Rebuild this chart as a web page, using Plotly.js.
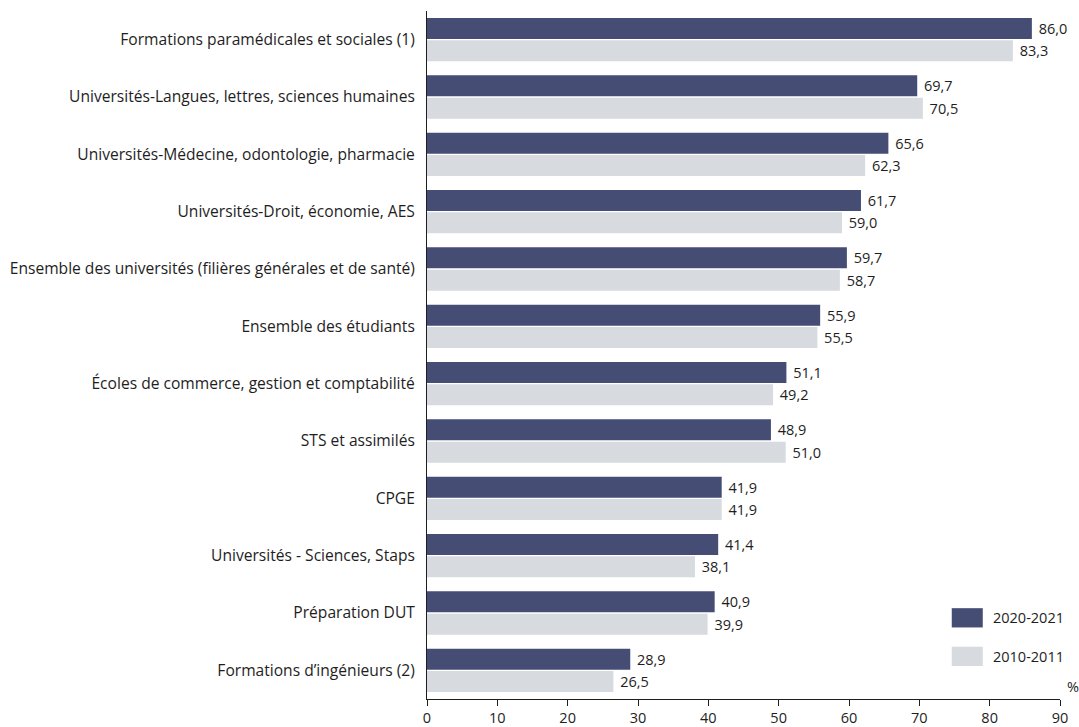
<!DOCTYPE html>
<html>
<head>
<meta charset="utf-8">
<script src="https://cdn.plot.ly/plotly-3.0.1.min.js"></script>
<style>html,body{margin:0;padding:0;background:#fff;}#chart{width:1079px;height:727px;}</style>
</head>
<body>
<div id="chart"></div>
<script>
const categories = [
  "Formations paramédicales et sociales (1)",
  "Universités-Langues, lettres, sciences humaines",
  "Universités-Médecine, odontologie, pharmacie",
  "Universités-Droit, économie, AES",
  "Ensemble des universités (filières générales et de santé)",
  "Ensemble des étudiants",
  "Écoles de commerce, gestion et comptabilité",
  "STS et assimilés",
  "CPGE",
  "Universités - Sciences, Staps",
  "Préparation DUT",
  "Formations d’ingénieurs (2)"
];
const values2020 = [86.0, 69.7, 65.6, 61.7, 59.7, 55.9, 51.1, 48.9, 41.9, 41.4, 40.9, 28.9];
const values2010 = [83.3, 70.5, 62.3, 59.0, 58.7, 55.5, 49.2, 51.0, 41.9, 38.1, 39.9, 26.5];
const seriesNames = ["2020-2021", "2010-2011"];
const xTicks = [0, 10, 20, 30, 40, 50, 60, 70, 80, 90];

const dark = "#454d75", light = "#d7dade", ink = "#1e1e1e";
const font = "Open Sans, sans-serif";

const mk = (name, vals, color) => ({
  type: "bar", orientation: "h", name: name,
  y: categories, x: vals,
  marker: {color: color},
  text: vals, texttemplate: " %{x:.1f}", textposition: "outside",
  constraintext: "none",
  textfont: {family: font, size: 14.5, color: ink},
  cliponaxis: false, hoverinfo: "x+y"
});

const data = [mk(seriesNames[0], values2020, dark), mk(seriesNames[1], values2010, light)];

const layout = {
  width: 1079, height: 727,
  margin: {l: 427, r: 19, t: 11, b: 28},
  paper_bgcolor: "#fff", plot_bgcolor: "#fff",
  separators: ", ",
  barmode: "group", bargap: 0.22, bargroupgap: 0.06,
  showlegend: false,
  font: {family: font, size: 15.5, color: ink},
  xaxis: {
    range: [0, 90], tickvals: xTicks, showgrid: false, zeroline: false,
    showline: true, linecolor: ink, linewidth: 1,
    ticks: "outside", ticklen: 6, tickcolor: ink, tickwidth: 1,
    tickfont: {family: font, size: 14.5, color: ink}, fixedrange: true
  },
  yaxis: {
    autorange: "reversed", showgrid: false, zeroline: false,
    showline: true, linecolor: ink, linewidth: 1,
    ticks: "", ticklabelstandoff: 8,
    tickfont: {family: font, size: 15.6, color: ink}, fixedrange: true
  },
  shapes: [
    {type: "rect", xref: "paper", yref: "paper", x0: 0.829, x1: 0.878, y0: 0.104, y1: 0.132, fillcolor: dark, line: {width: 0}},
    {type: "rect", xref: "paper", yref: "paper", x0: 0.829, x1: 0.878, y0: 0.048, y1: 0.076, fillcolor: light, line: {width: 0}}
  ],
  annotations: [
    {xref: "paper", yref: "paper", x: 0.891, y: 0.118, xanchor: "left", yanchor: "middle", text: seriesNames[0], showarrow: false, font: {family: font, size: 14.5, color: ink}},
    {xref: "paper", yref: "paper", x: 0.891, y: 0.062, xanchor: "left", yanchor: "middle", text: seriesNames[1], showarrow: false, font: {family: font, size: 14.5, color: ink}},
    {xref: "paper", yref: "paper", x: 1.008, y: 0.0, xanchor: "left", yanchor: "bottom", yshift: 1, text: "%", showarrow: false, font: {family: font, size: 14.5, color: ink}}
  ]
};

Plotly.newPlot("chart", data, layout, {displayModeBar: false, staticPlot: true});
</script>
</body>
</html>
